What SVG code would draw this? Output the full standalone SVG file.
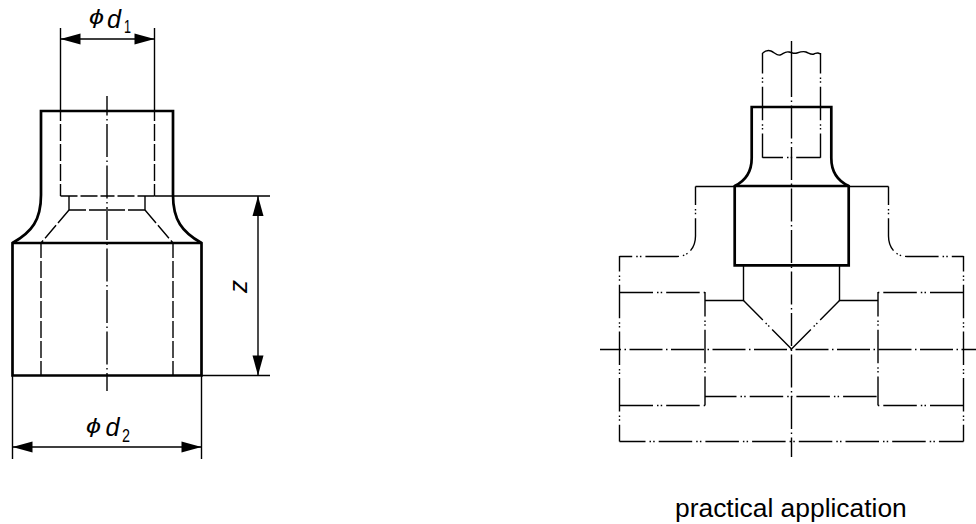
<svg xmlns="http://www.w3.org/2000/svg" width="976" height="524" viewBox="0 0 976 524">
<style>
text{font-family:"Liberation Sans",Arial,sans-serif;fill:#000}
.i{font-style:italic}
.h{fill:none;stroke:#000;stroke-width:2.700}
.t{fill:none;stroke:#000;stroke-width:1.400}
.c{fill:none;stroke:#000;stroke-width:1.400;stroke-dasharray:33 3.500 1.500 3.500}
.d{fill:none;stroke:#000;stroke-width:1.400;stroke-dasharray:17 3}
.p{fill:none;stroke:#000;stroke-width:1.400;stroke-dasharray:33.500 4 1.500 2.200 1.500 4}
.a{fill:#000;stroke:none}
</style>
<defs>
<path id="ah" class="a" d="M0 0L20 -5.500V5.500Z"/>
</defs>
<rect width="976" height="524" fill="#fff"/>
<g id="fitting-hidden">
<path class="d" stroke-dashoffset="7" d="M60.500 111V196"/>
<path class="d" stroke-dashoffset="7" d="M154.500 111V196"/>
<path class="d" d="M60.500 196H107"/>
<path class="d" d="M154.500 196H107"/>
<path class="t" d="M69 196V210M145 196V210"/>
<path class="d" d="M69 210H107"/>
<path class="d" d="M145 210H107"/>
<path class="d" d="M69 210L41 243"/>
<path class="d" d="M145 210L173 243"/>
<path class="d" stroke-dashoffset="2" d="M41 243V375.500"/>
<path class="d" stroke-dashoffset="2" d="M173 243V375.500"/>
<path class="c" stroke-dashoffset="13.500" d="M107 96V391"/>
</g>
<g id="fitting-outline">
<path class="h" d="M41 111H173V195C173 220 182 232 201.500 243V375.500H12.500V243C32 232 41 220 41 195Z"/>
<path class="h" d="M12.500 243H201.500"/>
</g>
<g id="connectors">
<path class="t" d="M60.500 28V111M154.500 28V111M154.500 196H270M201.500 375.500H270M12.500 375.500V459M201.500 375.500V459M60.500 39H154.500M258 196V375.500M12.500 447H201.500"/>
<use href="#ah" transform="translate(60.500 39)"/>
<use href="#ah" transform="translate(154.500 39) rotate(180)"/>
<use href="#ah" transform="translate(258 196) rotate(90)"/>
<use href="#ah" transform="translate(258 375.500) rotate(-90)"/>
<use href="#ah" transform="translate(12.500 447)"/>
<use href="#ah" transform="translate(201.500 447) rotate(180)"/>
</g>
<g id="labels">
<text class="i" x="89" y="24" font-size="21" textLength="15" lengthAdjust="spacingAndGlyphs">ϕ</text>
<text class="i" x="107" y="28" font-size="25" textLength="14" lengthAdjust="spacingAndGlyphs">d</text>
<text x="124" y="33" font-size="18" textLength="7" lengthAdjust="spacingAndGlyphs">1</text>
<text class="i" x="86" y="433" font-size="21" textLength="15" lengthAdjust="spacingAndGlyphs">ϕ</text>
<text class="i" x="105.500" y="436" font-size="25" textLength="14" lengthAdjust="spacingAndGlyphs">d</text>
<text x="122" y="442" font-size="18" textLength="8" lengthAdjust="spacingAndGlyphs">2</text>
<text class="i" transform="translate(247 293) rotate(-90)" font-size="26">z</text>
<text x="675" y="517" font-size="26.400">practical application</text>
</g>
<g id="tee-phantom">
<path class="t" d="M762.700 53C765 51 768 50 771 51S777 56 780 55 785 51 789 52 794 54 797 53 803 51 806 52 811 55 814 54 818 52 820 54"/>
<path class="p" stroke-dashoffset="13" d="M762.500 53V157.700"/>
<path class="p" stroke-dashoffset="13" d="M820.500 53V157.700"/>
<path class="p" stroke-dashoffset="13" d="M762.500 157.500H820.500"/>
<path class="t" d="M735 186.500H695.500M849 186.500H888.500"/>
<path class="p" stroke-dashoffset="15" d="M695.500 186.500V236C695.500 248 688 256.500 677 256.500H619.500"/>
<path class="p" stroke-dashoffset="15" d="M888.500 186.500V236C888.500 248 896 256.500 907 256.500H963.500"/>
<path class="p" stroke-dashoffset="18" d="M619.500 256V441.500"/>
<path class="p" stroke-dashoffset="18" d="M963.500 256V441.500"/>
<path class="p" stroke-dashoffset="7.500" d="M619.500 441.500H963.500"/>
<path class="p" d="M619.500 292.500H705"/>
<path class="p" d="M963.500 292.500H878"/>
<path class="p" d="M619.500 405.500H705"/>
<path class="p" d="M963.500 405.500H878"/>
<path class="p" stroke-dashoffset="9" d="M705 292V405.500"/>
<path class="p" stroke-dashoffset="9" d="M878 292V405.500"/>
<path class="p" stroke-dashoffset="2" d="M705 396.500H878"/>
<path class="t" d="M743.500 265V300.500H705M839.500 265V300.500H878"/>
<path class="p" stroke-dashoffset="6" d="M743.500 300.500L791.500 349"/>
<path class="p" stroke-dashoffset="6" d="M839.500 300.500L791.500 349"/>
<path class="t" d="M791.500 41V97"/>
<path class="c" stroke-dashoffset="33" d="M791.500 97V457"/>
<path class="c" stroke-dashoffset="12" d="M600 349.500H976"/>
</g>
<g id="tee-fitting">
<path class="h" d="M751.700 107H831.300V158C831.300 172 838 181 848.700 186V265.300H734.700V186C745 181 751.700 172 751.700 158Z"/>
<path class="h" d="M734.700 186H848.700"/>
</g>
</svg>
